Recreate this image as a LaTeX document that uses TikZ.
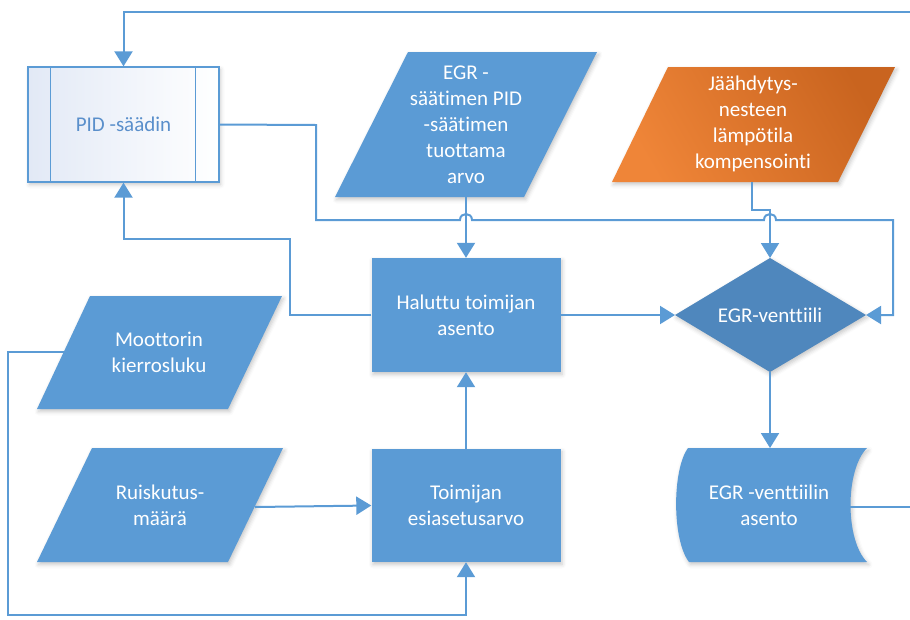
\documentclass[tikz,border=0pt]{standalone}
\usepackage{fontspec}
\setmainfont{Carlito}[Ligatures=NoCommon]
\usetikzlibrary{arrows.meta,shadows.blur}
\definecolor{fblue}{HTML}{5B9BD5}
\definecolor{lblue}{HTML}{5B9BD5}
\definecolor{dblue}{HTML}{4F87BD}
\definecolor{org1}{HTML}{EF8538}
\definecolor{org2}{HTML}{C9641F}
\definecolor{pidl}{HTML}{E2E9F6}
\definecolor{pidtxt}{HTML}{5A8FCB}
\begin{document}
\begin{tikzpicture}[x=1pt,y=-1pt,
  conn/.style={draw=lblue,line width=2pt,line join=miter,-{Triangle[width=18pt,length=15pt]}},
  sh/.style={blur shadow={shadow xshift=1.5pt,shadow yshift=-2.5pt,shadow blur radius=4pt,shadow opacity=22}},
  blk/.style={fill=fblue,sh},
  lbl/.style={text=white,align=center,font=\fontsize{21}{26}\selectfont,inner sep=0pt},
  rbox/.style={blk,lbl,minimum width=189,minimum height=114},
  pidbox/.style={draw=lblue,line width=1.3pt,left color=pidl,right color=white,sh,
     minimum width=191,minimum height=115,text=pidtxt,font=\fontsize{21}{26}\selectfont},
]
\clip (0,0) rectangle (910,619);

% PID controller
\node[pidbox] (pid) at (123.5,124.5) {PID -säädin};
\draw[draw=lblue,line width=1.3pt] ([xshift=23pt]pid.north west) -- ([xshift=23pt]pid.south west);
\draw[draw=lblue,line width=1.3pt] ([xshift=-24pt]pid.north east) -- ([xshift=-24pt]pid.south east);

% EGR PID value (parallelogram)
\path[blk] (408,52) -- (597,52) -- (524,197) -- (335,197) -- cycle;
\node[lbl] (egr) at (466,124.5) {EGR -\\säätimen PID\\-säätimen\\tuottama\\arvo};
\coordinate (egrB) at (466,197);

% Coolant temperature compensation (orange parallelogram)
\path[left color=org1,right color=org2,shading angle=120,sh] (668,67) -- (895,67) -- (838,182) -- (612,182) -- cycle;
\node[lbl] (cool) at (753,124) {Jäähdytys-\\nesteen\\lämpötila\\kompensointi};
\coordinate (coolB) at (752,182);

% Engine speed
\path[blk] (90,296) -- (282,296) -- (228,409) -- (37,409) -- cycle;
\node[lbl] (moo) at (159,352.5) {Moottorin\\kierrosluku};
\coordinate (mooW) at (64,352);

% Injection quantity
\path[blk] (92,448) -- (283,448) -- (228,562) -- (37,562) -- cycle;
\node[lbl] (rui) at (160,505) {Ruiskutus-\\määrä};
\coordinate (ruiE) at (255,507);

% Rectangles
\node[rbox] (hal) at (466,315) {Haluttu toimijan\\asento};
\node[rbox,minimum height=113] (toi) at (466,505.5) {Toimijan\\esiasetusarvo};

% Diamond
\path[fill=dblue,sh] (675,315) -- (770,258) -- (866,315) -- (770,372) -- cycle;
\node[lbl] (dia) at (770,315) {EGR-venttiili};
\coordinate (diaN) at (770,258);
\coordinate (diaS) at (770,372);
\coordinate (diaW) at (675,315);
\coordinate (diaE) at (866,315);

% Stored data shape
\path[blk] (688,448) -- (867,448) .. controls (845,470) and (845,540) .. (867,562)
  -- (689,562) .. controls (672,540) and (672,470) .. (688,448) -- cycle;
\node[lbl] (sto) at (769,505) {EGR -venttiilin\\asento};
\coordinate (stoN) at (770,448);
\coordinate (stoE) at (850,507);

% Connectors
\draw[conn] (egrB) -- (hal.north);
\draw[conn] (coolB) -- (752,210) -- (770,210) -- (diaN);
\draw[conn] (hal.east) -- (diaW);
\draw[conn] (diaS) -- (stoN);
\draw[conn] (toi.north) -- (hal.south);
\draw[conn] (ruiE) -- (toi.west);
\draw[conn] (mooW) -- (8,352) -- (8,615) -- (466,615) -- (toi.south);
\draw[conn] (hal.west) -- (290,315) -- (290,239) -- (123.5,239) -- (pid.south);
\draw[conn] (pid.east) -- (316,125) -- (316,220) -- (460,220)
   .. controls (460,212) and (472,212) .. (472,220) -- (764,220)
   .. controls (764,212) and (776,212) .. (776,220) -- (893,220) -- (893,315) -- (diaE);
\draw[conn] (stoE) -- (930,507) -- (930,12) -- (123.5,12) -- (pid.north);
\end{tikzpicture}
\end{document}
